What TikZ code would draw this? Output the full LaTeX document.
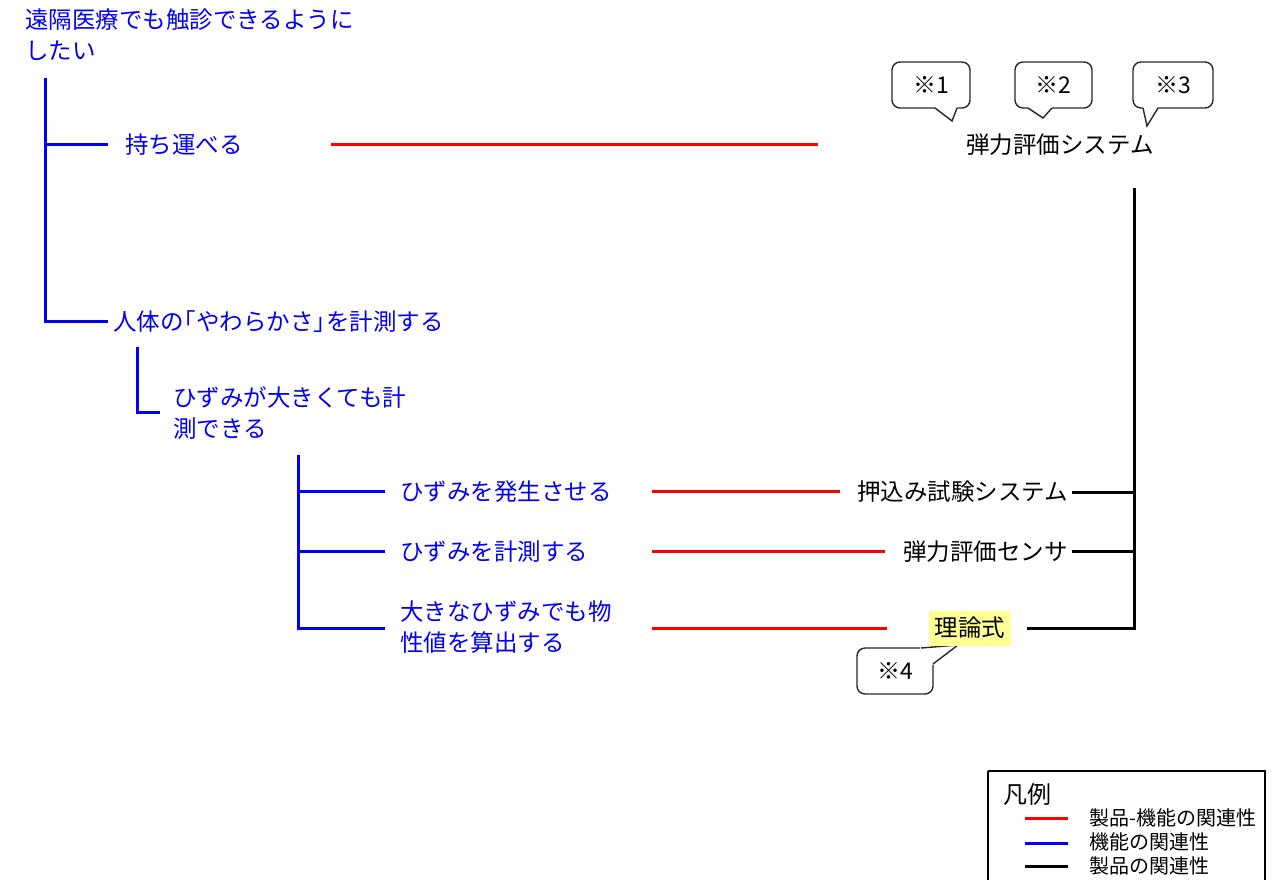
\documentclass[tikz,border=0pt]{standalone}
\usepackage{fontspec}
\setmainfont{Noto Sans CJK JP}
\definecolor{fblue}{RGB}{0,0,245}
\definecolor{fred}{RGB}{255,0,0}
\definecolor{cgray}{RGB}{40,40,40}
\definecolor{hilite}{RGB}{255,255,150}
\begin{document}
\begin{tikzpicture}[x=1pt,y=-1pt,
  fn/.style={text=fblue, font=\fontsize{23.5}{31}\selectfont, inner sep=0pt, anchor=west, align=left},
  pn/.style={text=black, font=\fontsize{23.5}{31}\selectfont, inner sep=0pt},
  bl/.style={draw=fblue, line width=3pt},
  rl/.style={draw=fred, line width=3pt},
  kl/.style={draw=black, line width=3pt},
  callbox/.style={draw=cgray, line width=1.4pt, rounded corners=8pt, fill=white, minimum width=78pt, minimum height=46pt, inner sep=0pt, font=\fontsize{23}{26}\selectfont},
  tail/.style={draw=cgray, line width=1.4pt, line join=miter},
  legtext/.style={text=black, font=\fontsize{20}{22}\selectfont, inner sep=0pt, anchor=west}
]
\useasboundingbox (0,0) rectangle (1288,879);
\fill[white] (0,0) rectangle (1288,879);

% function tree texts
\node[fn] (f0) at (25,35) {遠隔医療でも触診できるように\\したい};
\node[fn] (f1) at (125,145) {持ち運べる};
\node[fn] (f2) at (113,322) {人体の\kern-11pt「やわらかさ」\kern-11pt を計測する};
\node[fn] (f3) at (173,413) {ひずみが大きくても計\\測できる};
\node[fn] (f4) at (400,492) {ひずみを発生させる};
\node[fn] (f5) at (400,552) {ひずみを計測する};
\node[fn] (f6) at (400,627) {大きなひずみでも物\\性値を算出する};

% product texts
\node[pn] (p0) at (1060,145) {弾力評価システム};
\node[pn, anchor=east] (p1) at (1068,492) {押込み試験システム};
\node[pn, anchor=east] (p2) at (1068,552) {弾力評価センサ};

% blue tree
\coordinate (a0) at (45,78);
\coordinate (a1) at (45,144);
\coordinate (a2) at (45,321);
\coordinate (a1e) at (108,144);
\coordinate (a2e) at (108,321);
\draw[bl] (a0) -- (a2) -- (a2e);
\draw[bl] (a1) -- (a1e);
\coordinate (b0) at (137,347);
\coordinate (b1) at (137,412);
\coordinate (b1e) at (160,412);
\draw[bl] (b0) -- (b1) -- (b1e);
\coordinate (c0) at (298,455);
\coordinate (c1) at (298,491);
\coordinate (c2) at (298,551);
\coordinate (c3) at (298,628);
\coordinate (c1e) at (385,491);
\coordinate (c2e) at (385,551);
\coordinate (c3e) at (385,628);
\draw[bl] (c0) -- (c3) -- (c3e);
\draw[bl] (c1) -- (c1e);
\draw[bl] (c2) -- (c2e);

% red links
\coordinate (r1s) at (331,144);
\coordinate (r1e) at (818,144);
\coordinate (r2s) at (652,491);
\coordinate (r2e) at (840,491);
\coordinate (r3s) at (652,551);
\coordinate (r3e) at (885,551);
\coordinate (r4s) at (652,628);
\coordinate (r4e) at (887,628);
\draw[rl] (r1s) -- (r1e);
\draw[rl] (r2s) -- (r2e);
\draw[rl] (r3s) -- (r3e);
\draw[rl] (r4s) -- (r4e);

% black product tree
\coordinate (k0) at (1134,188);
\coordinate (k1) at (1134,492);
\coordinate (k2) at (1134,551);
\coordinate (k3) at (1134,628);
\coordinate (k1e) at (1072,492);
\coordinate (k2e) at (1072,551);
\coordinate (k3e) at (1027,628);
\draw[kl, line join=miter] (k0) -- (k3) -- (k3e);
\draw[kl] (k1e) -- (k1);
\draw[kl] (k2e) -- (k2);

% callouts top
\node[callbox] (n1) at (931,85) {※1};
\fill[white] (935,105) -- (957,105) -- (957,108) -- (952,121) -- (935,108) -- cycle;
\draw[tail] (935,108) -- (952,121) -- (957,108);
\node[callbox, minimum width=77pt] (n2) at (1053.5,85) {※2};
\fill[white] (1028,105) -- (1052,105) -- (1052,108) -- (1043,118) -- (1028,108) -- cycle;
\draw[tail] (1028,108) -- (1043,118) -- (1052,108);
\node[callbox, minimum width=80pt] (n3) at (1173,85) {※3};
\fill[white] (1143,105) -- (1158,105) -- (1158,108) -- (1147,126) -- (1143,108) -- cycle;
\draw[tail] (1143,108) -- (1147,126) -- (1158,108);

% callout 4
\node[callbox, minimum width=76pt] (n4) at (895,671) {※4};
\fill[white] (920,651) -- (920,646.5) -- (958,645) -- (934.5,664) -- (930,666) -- (930,651) -- cycle;
\draw[tail] (921,648) -- (958,645) -- (933,664);

% highlighted formula
\node[pn, fill=hilite, inner xsep=6pt, minimum height=35pt] (p3) at (970,628) {理論式};

% legend
\draw[black, line width=2pt] (988,771) -- (988,890) (988,771) -- (1265,771) -- (1265,890);
\node[text=black, font=\fontsize{24}{26}\selectfont, inner sep=0pt, anchor=west] (lg) at (1003,794) {凡例};
\coordinate (l1s) at (1025,818); \coordinate (l1e) at (1068,818);
\coordinate (l2s) at (1025,843); \coordinate (l2e) at (1068,843);
\coordinate (l3s) at (1025,866); \coordinate (l3e) at (1068,866);
\draw[rl] (l1s) -- (l1e);
\draw[bl] (l2s) -- (l2e);
\draw[kl] (l3s) -- (l3e);
\node[legtext] (lt1) at (1089,818) {製品-機能の関連性};
\node[legtext] (lt2) at (1089,842) {機能の関連性};
\node[legtext] (lt3) at (1089,866) {製品の関連性};
\end{tikzpicture}
\end{document}
